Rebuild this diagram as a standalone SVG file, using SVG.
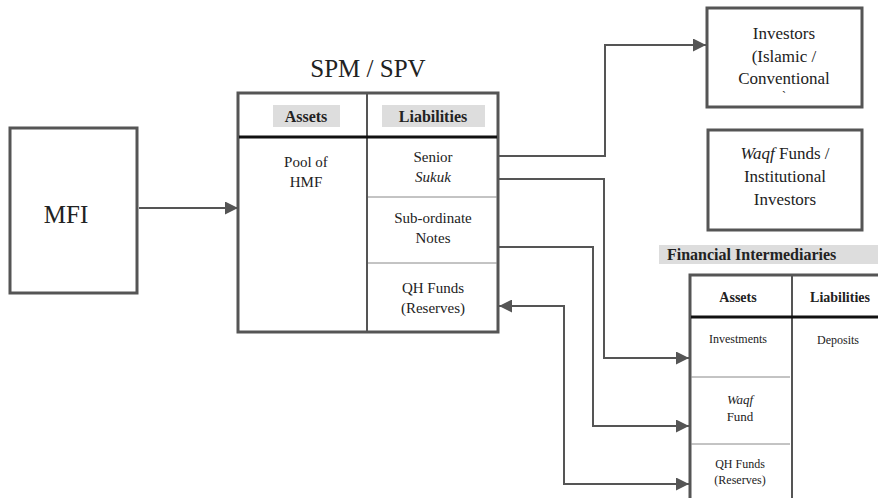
<svg xmlns="http://www.w3.org/2000/svg" width="878" height="498" viewBox="0 0 878 498" font-family="Liberation Serif, Times New Roman, serif">
<style>
text{fill:#222;text-anchor:middle}
.box{fill:#fff;stroke:#555;stroke-width:3}
.thin{stroke:#888;stroke-width:1;fill:none}
.hdr{stroke:#111;stroke-width:3}
.gbg{fill:#ddd}
.b{font-weight:bold}
.con{fill:none;stroke:#555;stroke-width:2}
</style>
<defs>
<marker id="ah" viewBox="0 0 10 10" refX="10" refY="5" markerWidth="6.5" markerHeight="6.5" orient="auto-start-reverse" markerUnits="strokeWidth">
<path d="M0,0L10,5L0,10z" fill="#555"/>
</marker>
</defs>
<rect width="878" height="498" fill="#fff"/>

<g id="mfi">
<rect class="box" x="10" y="128" width="127" height="165"/>
<text x="66" y="223" font-size="25" font-family="Liberation Serif, Times New Roman, serif">MFI</text>
</g>

<g id="spv" font-family="Liberation Serif, Times New Roman, serif">
<text x="368" y="77" font-size="25">SPM / SPV</text>
<rect class="box" x="238" y="93" width="260" height="239"/>
<line x1="367" y1="93" x2="367" y2="332" stroke="#555" stroke-width="2"/>
<line class="hdr" x1="239" y1="137" x2="497" y2="137"/>
<rect class="gbg" x="273" y="105" width="67" height="22"/>
<rect class="gbg" x="382" y="105" width="103" height="22"/>
<text class="b" x="306" y="122" font-size="16">Assets</text>
<text class="b" x="433" y="122" font-size="16">Liabilities</text>
<text x="306" y="167" font-size="15">Pool of</text>
<text x="306" y="187" font-size="15">HMF</text>
<line class="thin" x1="368" y1="197" x2="497" y2="197"/>
<line class="thin" x1="368" y1="263" x2="497" y2="263"/>
<text x="433" y="162" font-size="15">Senior</text>
<text x="433" y="182" font-size="15" font-style="italic">Sukuk</text>
<text x="433" y="223" font-size="15">Sub-ordinate</text>
<text x="433" y="243" font-size="15">Notes</text>
<text x="433" y="293" font-size="15">QH Funds</text>
<text x="433" y="313" font-size="15">(Reserves)</text>
</g>

<g id="investors" font-family="Liberation Serif, Times New Roman, serif">
<rect class="box" x="707" y="8" width="155" height="99"/>
<text x="784" y="39" font-size="17">Investors</text>
<text x="784" y="62" font-size="17">(Islamic /</text>
<text x="784" y="84" font-size="17">Conventional</text>
<text x="784" y="100" font-size="12">`</text>
</g>

<g id="waqf" font-family="Liberation Serif, Times New Roman, serif">
<rect class="box" x="708" y="130" width="154" height="100"/>
<text x="785" y="159" font-size="17"><tspan font-style="italic">Waqf</tspan> Funds /</text>
<text x="785" y="182" font-size="17">Institutional</text>
<text x="785" y="205" font-size="17">Investors</text>
</g>

<g id="fi" font-family="Liberation Serif, Times New Roman, serif">
<rect class="gbg" x="659" y="245" width="219" height="19"/>
<text class="b" x="667" y="260" font-size="16" style="text-anchor:start">Financial Intermediaries</text>
<rect class="box" x="690" y="275" width="200" height="240"/>
<line x1="792" y1="275" x2="792" y2="498" stroke="#555" stroke-width="2"/>
<line class="hdr" x1="691" y1="317" x2="878" y2="317"/>
<text class="b" x="738" y="302" font-size="14">Assets</text>
<text class="b" x="840" y="302" font-size="14">Liabilities</text>
<text x="738" y="343" font-size="12">Investments</text>
<text x="838" y="344" font-size="12">Deposits</text>
<line class="thin" x1="691" y1="377" x2="790" y2="377"/>
<line class="thin" x1="691" y1="444" x2="790" y2="444"/>
<text x="740" y="404" font-size="13" font-style="italic">Waqf</text>
<text x="740" y="421" font-size="13">Fund</text>
<text x="740" y="468" font-size="12">QH Funds</text>
<text x="740" y="484" font-size="12">(Reserves)</text>
</g>

<g id="connectors">
<path class="con" d="M139,208H238" marker-end="url(#ah)"/>
<path class="con" d="M499,156H605V45H706" marker-end="url(#ah)"/>
<path class="con" d="M499,179H604V358H689" marker-end="url(#ah)"/>
<path class="con" d="M499,247H593V426H689" marker-end="url(#ah)"/>
<path class="con" d="M499,306H564V484H689" marker-start="url(#ah)" marker-end="url(#ah)"/>
</g>
</svg>
